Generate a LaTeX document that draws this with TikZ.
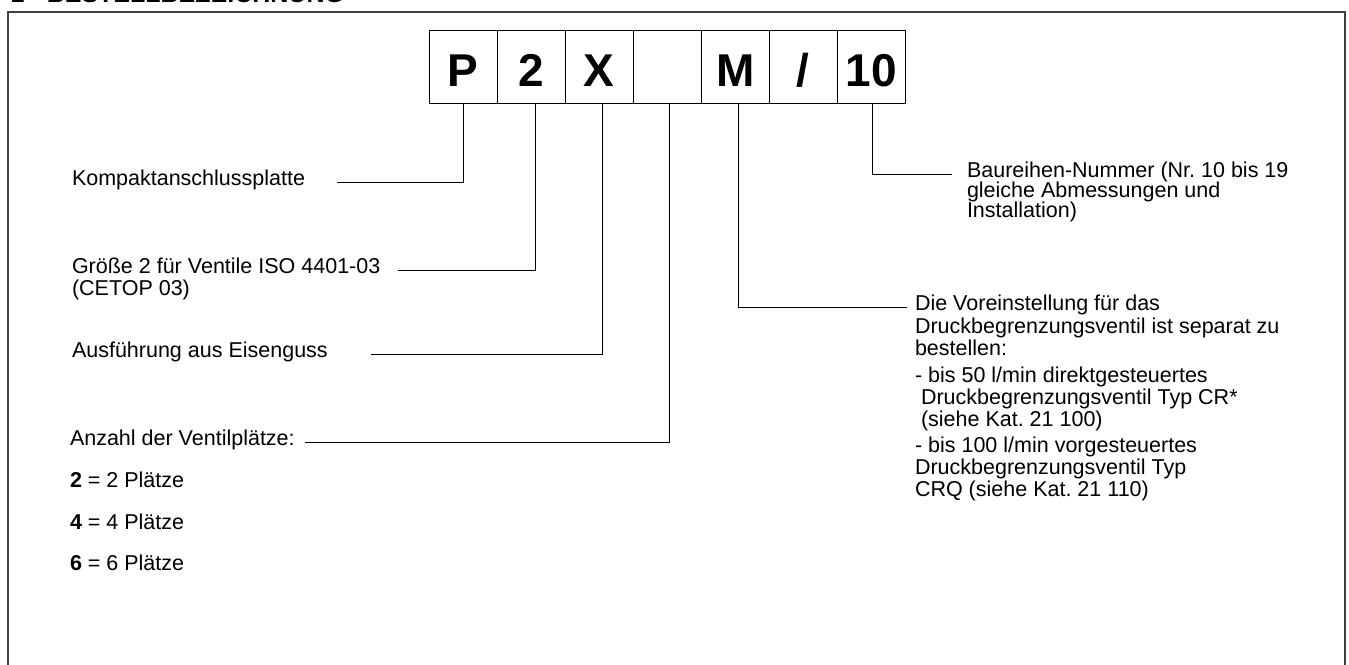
\documentclass[tikz,border=0pt]{standalone}
\usepackage{fontspec}
\setmainfont{Liberation Sans}
\usetikzlibrary{calc}
\frenchspacing
\begin{document}
\begin{tikzpicture}[x=1pt,y=-1pt,
  lbl/.style={inner sep=0pt, outer sep=0pt, anchor=base west, font=\fontsize{21.5}{24}\selectfont},
  codebox/.style={draw, line width=1pt, minimum width=68pt, minimum height=73.3pt, inner sep=0pt, outer sep=0pt,
    text height=39pt, text depth=0pt, font=\fontsize{46}{46}\selectfont\bfseries},
  conn/.style={line width=1pt},
  frame/.style={line width=1.5pt, black!75}]
\useasboundingbox (0,0) rectangle (1349,664);
\clip (0,0) rectangle (1349,664);
% header (cut off at top)
\node[inner sep=0pt, anchor=base west, font=\fontsize{25}{25}\selectfont\bfseries] (hdr) at (10.5,2.5) {1 - BESTELLBEZEICHNUNG};
% frame
\draw[frame] (8,700) -- (8,12) -- (1345,12) -- (1345,700);
% code boxes
\node[codebox] (b1) at (463.3,66.65) {P};
\node[codebox] (b2) at (531.3,66.65) {2};
\node[codebox] (b3) at (599.3,66.65) {X};
\node[codebox] (b4) at (667.3,66.65) {};
\node[codebox] (b5) at (735.3,66.65) {M};
\node[codebox] (b6) at (803.3,66.65) {/};
\node[codebox] (b7) at (871.3,66.65) {10};
% left labels
\node[lbl] (kom) at (72,185.6) {Kompaktanschlussplatte};
\node[lbl] (gro1) at (72,273.6) {Größe 2 für Ventile ISO 4401-03};
\node[lbl] (gro2) at (72,295.6) {(CETOP 03)};
\node[lbl] (aus) at (72,357.6) {Ausführung aus Eisenguss};
\node[lbl] (anz) at (70,445.6) {Anzahl der Ventilplätze:};
\node[lbl] (n2) at (70,487.6) {\textbf{2} = 2 Plätze};
\node[lbl] (n4) at (70,529.6) {\textbf{4} = 4 Plätze};
\node[lbl] (n6) at (70,570.6) {\textbf{6} = 6 Plätze};
% right labels
\node[lbl] (bau1) at (967,177.6) {Baureihen-Nummer (Nr. 10 bis 19};
\node[lbl] (bau2) at (967,197.6) {gleiche Abmessungen und};
\node[lbl] (bau3) at (967,217.6) {Installation)};
\node[lbl] (die1) at (915,310.6) {Die Voreinstellung für das};
\node[lbl] (die2) at (915,333.6) {Druckbegrenzungsventil ist separat zu};
\node[lbl] (die3) at (915,355.6) {bestellen:};
\node[lbl] (die4) at (915,382.6) {- bis 50 l/min direktgesteuertes};
\node[lbl] (die5) at (921,404.6) {Druckbegrenzungsventil Typ CR*};
\node[lbl] (die6) at (921,426.6) {(siehe Kat. 21 100)};
\node[lbl] (die7) at (915,452.6) {- bis 100 l/min vorgesteuertes};
\node[lbl] (die8) at (915,474.6) {Druckbegrenzungsventil Typ};
\node[lbl] (die9) at (915,496.6) {CRQ (siehe Kat. 21 110)};
% free ends of connectors
\coordinate (kE) at (337,0);
\coordinate (gE) at (398,0);
\coordinate (aE) at (371,0);
\coordinate (zE) at (305,0);
\coordinate (dE) at (907,0);
\coordinate (bE) at (952,0);
% connectors
\draw[conn] (b1.south) |- (kE |- kom.mid east);
\draw[conn] ([xshift=4.2pt]b2.south) |- (gE |- gro1.mid east);
\draw[conn] ([xshift=2.7pt]b3.south) |- (aE |- aus.mid east);
\draw[conn] ([xshift=1.7pt]b4.south) |- (zE |- anz.mid east);
\draw[conn] ([xshift=3.2pt]b5.south) |- (dE |- die1.mid west);
\draw[conn] ([xshift=0.7pt]b7.south) |- (bE |- bau1.mid west);
\end{tikzpicture}
\end{document}
